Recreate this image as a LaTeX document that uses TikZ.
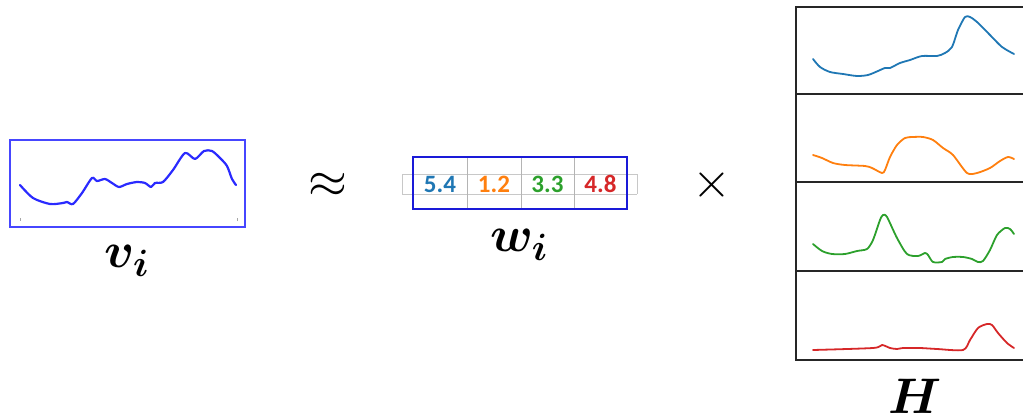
\RequirePackage{fix-cm}
\documentclass[tikz,border=0pt]{standalone}
\usepackage{fontspec}
\usepackage{bm}
\DeclareMathSizes{50}{50}{38}{30}
\newfontfamily\numfont{Carlito}
\definecolor{cA}{HTML}{1F77B4}
\definecolor{cB}{HTML}{FF7F0E}
\definecolor{cC}{HTML}{2CA02C}
\definecolor{cD}{HTML}{D62728}
\definecolor{sigblue}{HTML}{2A2AFF}
\definecolor{framblue}{HTML}{4646FF}
\definecolor{tabblue}{HTML}{1A1AD8}
\definecolor{gridgray}{HTML}{C8C8C8}
\definecolor{sepgray}{HTML}{B4B4B4}
\tikzset{
  biglabel/.style={inner sep=0pt, anchor=base, font=\fontsize{50}{50}\selectfont},
  opsym/.style={inner sep=0pt, font=\fontsize{50}{50}\selectfont},
  num/.style={inner sep=0pt, font=\numfont\bfseries\fontsize{25}{25}\selectfont},
  curve/.style={line width=1.8pt, line join=round, line cap=round},
  panel/.style={line width=1.2pt, draw=black!85}
}
\begin{document}
\begin{tikzpicture}[x=1pt, y=-1pt]
\useasboundingbox (0,0) rectangle (1023,420);

% ---- signal v_i ----
\draw[framblue, line width=1.3pt] (10,140) rectangle (245,227);
\draw[gray!70, line width=1pt] (20,218) -- (20,221);
\draw[gray!70, line width=1pt] (237,218) -- (237,221);
\draw[sigblue, line width=2.2pt, line join=round, line cap=round]
  plot[smooth, tension=0.45] coordinates {
  (20,185) (33,198) (50,204) (63,203) (67,202) (73,204) (82,193) (92,178) (97,181)
  (105,179) (112,183) (119,187) (127,184) (137,182) (145,183) (151,187)
  (155,183) (163,182) (173,170) (185,153) (195,159) (204,151) (212,151)
  (220,158) (227,166) (232,179) (236,185)};
\node[biglabel] (v) at (127,267) {$\bm{v}_{\bm{i}}$};

% ---- approximately equal ----
\node[opsym] (approx) at (328,185) {$\approx$};

% ---- weight row w_i ----
\draw[gridgray, line width=1pt] (402,174) -- (637,174);
\draw[gridgray, line width=1pt] (402,194) -- (637,194);
\draw[gridgray, line width=1pt] (402,174) -- (402,194);
\draw[gridgray, line width=1pt] (637,174) -- (637,194);
\foreach \xx in {467,521,574}
  \draw[sepgray, line width=1pt] (\xx,157) -- (\xx,209);
\draw[tabblue, line width=2pt] (413,157) rectangle (627,209);
\node[num, text=cA] (n1) at (440,184) {5.4};
\node[num, text=cB] (n2) at (494,184) {1.2};
\node[num, text=cC] (n3) at (547.5,184) {3.3};
\node[num, text=cD] (n4) at (600.5,184) {4.8};
\node[biglabel] (w) at (519,251) {$\bm{w}_{\bm{i}}$};

% ---- times ----
\node[opsym] (times) at (712,185) {$\times$};

% ---- basis panels H ----
\draw[panel] (1024,7) -- (796,7) -- (796,360) -- (1024,360);
\foreach \yy in {94,182,271}
  \draw[panel] (796,\yy) -- (1024,\yy);

\draw[cA, curve] plot[smooth, tension=0.45] coordinates {
  (813,59) (820,67) (830,72) (843,74) (857,76) (868,75) (878,71) (885,68)
  (890,68) (900,63) (910,60) (922,56) (937,56) (945,53) (952,47) (958,30)
  (965,17) (970,17) (977,22) (990,35) (1002,47) (1014,54)};
\draw[cB, curve] plot[smooth, tension=0.45] coordinates {
  (813,155) (822,158) (833,163) (845,165) (865,166) (872,168) (882,173)
  (885,170) (890,157) (897,145) (905,138) (913,137) (923,137) (933,140)
  (943,148) (953,155) (967,173) (977,173) (990,168) (1000,161) (1008,157)
  (1014,159)};
\draw[cC, curve] plot[smooth, tension=0.45] coordinates {
  (813,244) (822,251) (832,254) (845,254) (857,251) (867,249) (873,240)
  (880,220) (883,215) (887,217) (897,238) (907,254) (918,256) (925,253)
  (928,255) (933,262) (942,262) (945,259) (953,257) (963,257) (972,259)
  (978,262) (983,261) (990,250) (997,235) (1005,228) (1010,229) (1014,234)};
\draw[cD, curve] plot[smooth, tension=0.45] coordinates {
  (813,350) (873,348) (882,345) (890,348) (897,349) (903,348) (920,348)
  (937,349) (963,350) (970,340) (978,328) (987,324) (992,325) (998,333)
  (1007,343) (1014,348)};
\node[biglabel] (H) at (915,413) {$\bm{H}$};
\end{tikzpicture}
\end{document}
